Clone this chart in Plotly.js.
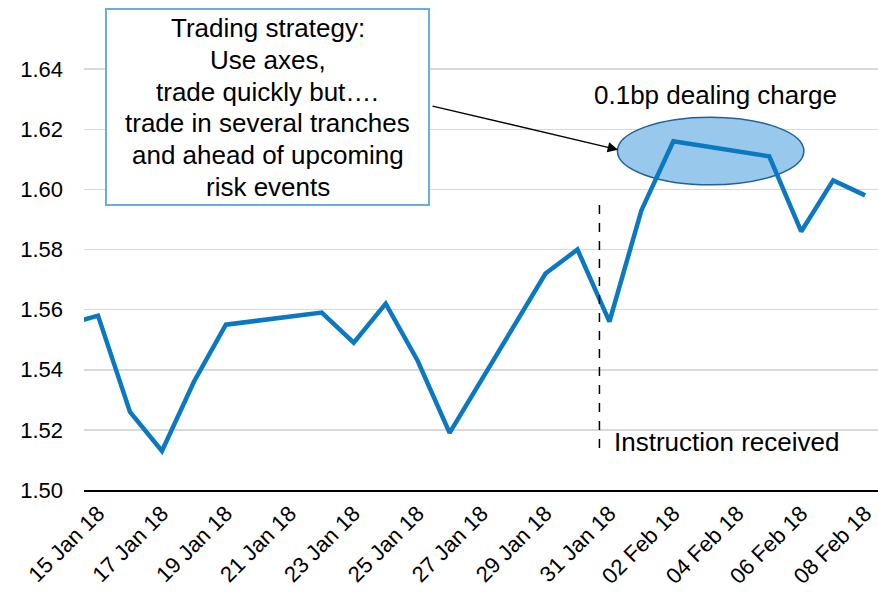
<!DOCTYPE html>
<html>
<head>
<meta charset="utf-8">
<script src="https://cdn.plot.ly/plotly-3.0.1.min.js"></script>
<style>html,body{margin:0;padding:0;background:#fff;}#chart{width:878px;height:597px;}</style>
</head>
<body>
<div id="chart"></div>
<script>
// Data (trading days)
const dates = ["2018-01-12","2018-01-15","2018-01-16","2018-01-17","2018-01-18","2018-01-19",
  "2018-01-22","2018-01-23","2018-01-24","2018-01-25","2018-01-26",
  "2018-01-29","2018-01-30","2018-01-31","2018-02-01","2018-02-02",
  "2018-02-05","2018-02-06","2018-02-07","2018-02-08"];
const rates = [1.549,1.558,1.526,1.513,1.536,1.555,
  1.559,1.549,1.562,1.543,1.519,
  1.572,1.580,1.556,1.593,1.616,
  1.611,1.586,1.603,1.598];
const boxLines = ["Trading strategy:","Use axes,","trade quickly but….","trade in several tranches","and ahead of upcoming","risk events"];
const chargeLabel = "0.1bp dealing charge";
const instructionLabel = "Instruction received";
const instructionTime = "2018-01-30 16:30";

const font = "Arial, 'Liberation Sans', sans-serif";
const plotTop = 12, plotBottom = 490, plotLeft = 84, plotW = 794;
const py = p => (plotBottom - p) / (plotBottom - plotTop);
const px = p => (p - plotLeft) / plotW;

const trace = {
  x: dates, y: rates, type: "scatter", mode: "lines",
  line: {color: "#0a79c1", width: 4.5},
  hoverinfo: "skip"
};

const boxAnnotations = boxLines.map((t, i) => ({
  xref: "paper", yref: "paper", x: px(267.5), y: py(28 + 31.8 * i),
  text: t, showarrow: false, xanchor: "center", yanchor: "middle",
  font: {size: 26, family: font, color: "#000"}
}));

const layout = {
  width: 878, height: 597,
  margin: {l: 84, r: 0, t: 12, b: 107},
  paper_bgcolor: "#fff", plot_bgcolor: "#fff",
  showlegend: false,
  font: {family: font, color: "#000"},
  xaxis: {
    type: "date",
    range: ["2018-01-14 13:28", "2018-02-08 09:40"],
    tick0: "2018-01-15", dtick: 2 * 86400000,
    tickformat: "%d %b %y", tickangle: -45,
    tickfont: {size: 22, family: font, color: "#000"},
    showgrid: false, zeroline: false,
    showline: true, linecolor: "#000", linewidth: 2,
    ticks: ""
  },
  yaxis: {
    range: [1.50, 1.659],
    tick0: 1.50, dtick: 0.02, tickformat: ".2f",
    tickfont: {size: 22, family: font, color: "#000"},
    showgrid: true, gridcolor: "#d9d9d9", gridwidth: 1.5,
    zeroline: false, showline: false, ticks: "",
    ticklabelstandoff: 20
  },
  shapes: [
    {type: "circle", xref: "x", yref: "y", layer: "between",
     x0: "2018-01-31 06:00", x1: "2018-02-06 02:00", y0: 1.6015, y1: 1.624,
     fillcolor: "#98c8ec", line: {color: "#20609c", width: 1.5}},
    {type: "line", xref: "x", yref: "y", layer: "above",
     x0: instructionTime, x1: instructionTime, y0: 1.514, y1: 1.5955,
     line: {color: "#000", width: 1.5, dash: "dash"}},
    {type: "rect", xref: "paper", yref: "paper", layer: "above",
     x0: px(106), x1: px(429), y0: py(205), y1: py(9),
     fillcolor: "#fff", line: {color: "#6aaee0", width: 2}}
  ],
  annotations: boxAnnotations.concat([
    {xref: "paper", yref: "paper", x: px(592), y: py(95),
     text: chargeLabel, showarrow: false, xanchor: "left", yanchor: "middle",
     font: {size: 26, family: font, color: "#000"}},
    {xref: "paper", yref: "paper", x: px(612), y: py(442),
     text: instructionLabel, showarrow: false, xanchor: "left", yanchor: "middle",
     font: {size: 26, family: font, color: "#000"}},
    {xref: "x", yref: "y", x: "2018-01-31 06:30", y: 1.6132,
     text: "", showarrow: true, axref: "pixel", ayref: "pixel",
     ax: -187, ay: -44, arrowhead: 2, arrowsize: 1.6, arrowwidth: 1.3,
     arrowcolor: "#000", standoff: 0}
  ])
};

Plotly.newPlot("chart", [trace], layout, {displayModeBar: false, staticPlot: true});
</script>
</body>
</html>
